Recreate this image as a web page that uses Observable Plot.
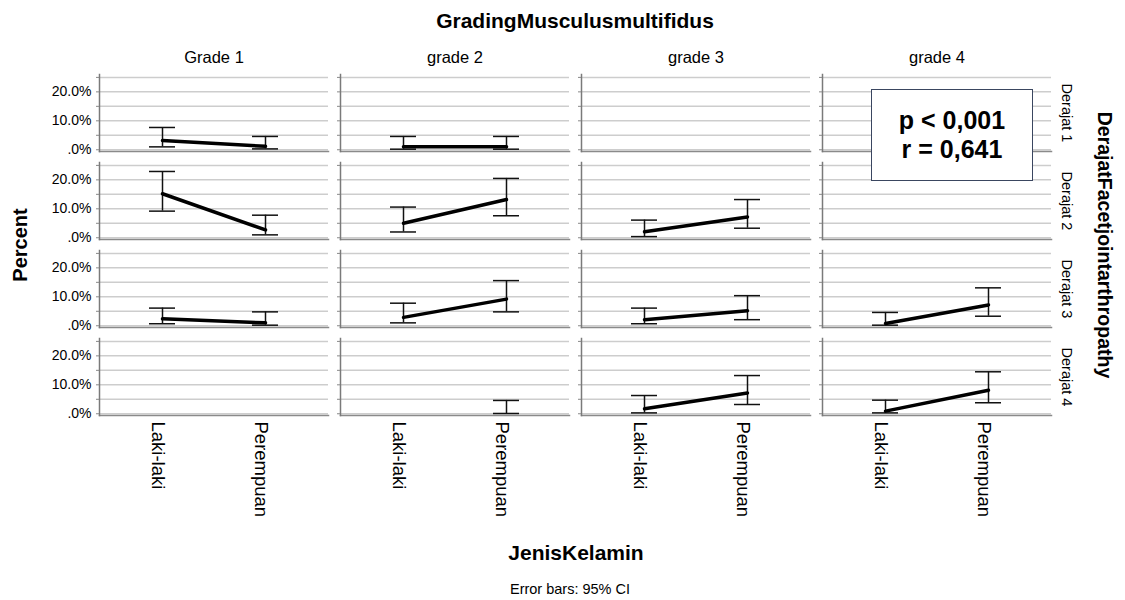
<!DOCTYPE html>
<html>
<head>
<meta charset="utf-8">
<script src="https://cdn.jsdelivr.net/npm/d3@7"></script>
<script src="https://cdn.jsdelivr.net/npm/@observablehq/plot@0.6"></script>
<style>
  html, body { margin: 0; padding: 0; background: #fff; }
  #wrap { position: relative; width: 1125px; height: 600px; font-family: "Liberation Sans", Arial, sans-serif; color: #000; }
  .lbl { position: absolute; white-space: nowrap; transform-origin: center center; line-height: 1; }
  .bold { font-weight: bold; }
  #note { position: absolute; left: 871px; top: 89px; width: 160px; height: 90px; border: 1px solid #3a4660; background: #fff; }
  #note div { position: absolute; left: 0; width: 100%; height: 29px; text-align: center; font-weight: bold; font-size: 25px; line-height: 29px; }
</style>
</head>
<body>
<div id="wrap">
  <div id="chart"></div>
  <div class="lbl bold" id="title" style="left:575px;top:20px;font-size:21px;transform:translate(-50%,-50%)">GradingMusculusmultifidus</div>
  <div class="lbl bold" id="ylab" style="left:20px;top:245px;font-size:20px;transform:translate(-50%,-50%) rotate(-90deg)">Percent</div>
  <div class="lbl bold" id="fylab" style="left:1104px;top:245px;font-size:19.5px;transform:translate(-50%,-50%) rotate(90deg)">DerajatFacetjointarthropathy</div>
  <div class="lbl bold" id="xlab" style="left:576px;top:552px;font-size:21px;transform:translate(-50%,-50%)">JenisKelamin</div>
  <div class="lbl" id="cap" style="left:570px;top:589px;font-size:14.5px;transform:translate(-50%,-50%)">Error bars: 95% CI</div>
  <div id="note">
    <div style="top:16px">p &lt; 0,001</div>
    <div style="top:45px">r = 0,641</div>
  </div>
</div>
<script>
const grades = ["Grade 1", "grade 2", "grade 3", "grade 4"];
const derajat = ["Derajat 1", "Derajat 2", "Derajat 3", "Derajat 4"];
const genders = ["Laki-laki", "Perempuan"];
const gridTicks = [0, 5, 10, 15, 20, 25];
const labelTicks = [0, 10, 20];

// [derajat row][grade column] = [Laki-laki, Perempuan], percent
const meanPct = [
  [[3.2, 1.2], [1.0, 1.0], [null, null], [null, null]],
  [[15.2, 2.7], [5.0, 13.2], [2.1, 7.2], [null, null]],
  [[2.4, 1.0], [2.9, 9.2], [2.1, 5.2], [0.8, 7.2]],
  [[null, null], [null, null], [1.7, 7.2], [0.9, 8.1]]
];
const ciLow = [
  [[1.0, 0.3], [0.2, 0.2], [null, null], [null, null]],
  [[9.2, 1.0], [2.0, 7.6], [0.4, 3.3], [null, null]],
  [[0.7, 0.2], [1.0, 4.8], [0.7, 2.1], [0.2, 3.3]],
  [[null, null], [null, 0.1], [0.3, 3.2], [0.3, 3.8]]
];
const ciHigh = [
  [[7.7, 4.6], [4.6, 4.6], [null, null], [null, null]],
  [[22.9, 7.8], [10.6, 20.5], [6.1, 13.2], [null, null]],
  [[6.1, 4.8], [7.8, 15.6], [6.1, 10.4], [4.6, 13.1]],
  [[null, null], [null, 4.6], [6.3, 13.2], [4.7, 14.5]]
];

const rows = [];
derajat.forEach((d, i) => grades.forEach((g, j) => genders.forEach((s, k) => {
  rows.push({derajat: d, grade: g, gender: s, mean: meanPct[i][j][k], lo: ciLow[i][j][k], hi: ciHigh[i][j][k]});
})));
const bars = rows.filter(d => d.lo != null && d.hi != null);
const fmt = d => d === 0 ? ".0%" : d.toFixed(1) + "%";

const chart = Plot.plot({
  width: 1125,
  height: 600,
  marginTop: 73,
  marginLeft: 99,
  marginRight: 74,
  marginBottom: 183,
  style: {fontFamily: "Liberation Sans, Arial, sans-serif", fontSize: "14px", color: "#000", background: "#fff", overflow: "visible"},
  fx: {domain: grades, paddingInner: 0.05, paddingOuter: 0, label: null},
  fy: {domain: derajat, paddingInner: 0.124, paddingOuter: 0, label: null},
  x: {type: "band", domain: genders, paddingInner: 0.75, paddingOuter: 0.48, label: null},
  y: {domain: [-0.6, 26], label: null},
  marks: [
    Plot.ruleY(gridTicks, {stroke: "#cdcdcd", strokeWidth: 1.5}),
    Plot.frame({anchor: "bottom", stroke: "#8a8a8a", strokeWidth: 1.5}),
    Plot.frame({anchor: "left", stroke: "#7a7a7a", strokeWidth: 1.5}),
    Plot.axisY({ticks: gridTicks, tickSize: 3, tickFormat: () => "", facetAnchor: null, stroke: "#888", label: null}),
    Plot.axisY({ticks: labelTicks, tickSize: 0, tickPadding: 8, tickFormat: fmt, fontSize: 14, label: null}),
    Plot.axisX({tickRotate: 90, tickSize: 0, tickPadding: 6, dx: -5, fontSize: 18.5, label: null}),
    Plot.axisFx({anchor: "top", tickSize: 0, tickPadding: 12, fontSize: 16.5, label: null}),
    Plot.axisFy({anchor: "right", tickRotate: 90, tickSize: 0, tickPadding: 10, dx: 11, fontSize: 14.5, label: null}),
    Plot.ruleX(bars, {fx: "grade", fy: "derajat", x: "gender", y1: "lo", y2: "hi", stroke: "#111", strokeWidth: 1.5}),
    Plot.tickY(bars, {fx: "grade", fy: "derajat", x: "gender", y: "lo", stroke: "#111", strokeWidth: 1.5}),
    Plot.tickY(bars, {fx: "grade", fy: "derajat", x: "gender", y: "hi", stroke: "#111", strokeWidth: 1.5}),
    Plot.line(rows, {fx: "grade", fy: "derajat", x: "gender", y: "mean", stroke: "#000", strokeWidth: 3.5})
  ]
});
document.getElementById("chart").appendChild(chart);
</script>
</body>
</html>
